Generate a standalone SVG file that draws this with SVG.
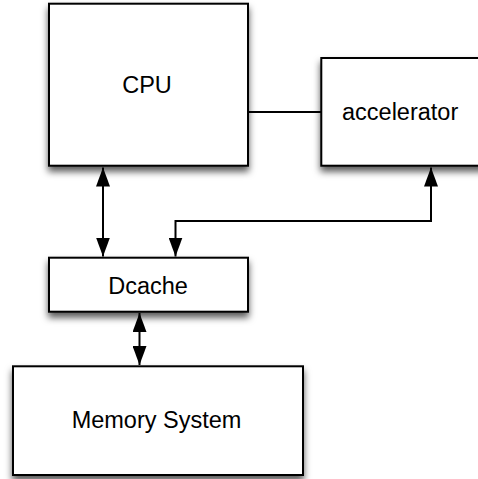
<svg xmlns="http://www.w3.org/2000/svg" width="478" height="479" viewBox="0 0 478 479">
  <defs>
    <filter id="shadow" x="-20%" y="-20%" width="140%" height="150%">
      <feDropShadow dx="0" dy="5" stdDeviation="3.5" flood-color="#000" flood-opacity="0.65"/>
    </filter>
    <marker id="arrow" viewBox="0 0 19 14" refX="19" refY="7" markerWidth="19" markerHeight="14" markerUnits="userSpaceOnUse" orient="auto-start-reverse">
      <path d="M0,0 L19,7 L0,14 Z" fill="#000"/>
    </marker>
  </defs>
  <style>
    .box { fill: #fff; stroke: #000; stroke-width: 2; filter: url(#shadow); }
    .label { font-family: "Liberation Sans", Arial, Helvetica, sans-serif; font-size: 23.5px; fill: #000; }
    .wire { fill: none; stroke: #000; stroke-width: 2; }
  </style>
  <rect width="478" height="479" fill="#fff"/>

  <g id="connectors">
    <!-- CPU to accelerator -->
    <line class="wire" x1="248" y1="112" x2="321" y2="112"/>
    <!-- CPU <-> Dcache -->
    <line class="wire" x1="103" y1="167.5" x2="103" y2="256.5" marker-start="url(#arrow)" marker-end="url(#arrow)"/>
    <!-- accelerator <-> Dcache -->
    <polyline class="wire" points="431,167.5 431,221 175.5,221 175.5,256.5" marker-start="url(#arrow)" marker-end="url(#arrow)"/>
    <!-- Dcache <-> Memory System -->
    <line class="wire" x1="139.5" y1="313" x2="139.5" y2="365" marker-start="url(#arrow)" marker-end="url(#arrow)"/>
  </g>

  <g id="cpu">
    <rect class="box" x="49" y="3.7" width="199" height="162"/>
    <text class="label" x="147" y="92.5" text-anchor="middle">CPU</text>
  </g>

  <g id="accelerator">
    <rect class="box" x="321.3" y="58" width="170" height="107.7"/>
    <text class="label" x="342" y="119.5">accelerator</text>
  </g>

  <g id="dcache">
    <rect class="box" x="49" y="257.7" width="199" height="54"/>
    <text class="label" x="148" y="293.5" text-anchor="middle">Dcache</text>
  </g>

  <g id="memory">
    <rect class="box" x="13" y="366.3" width="290" height="108.7"/>
    <text class="label" x="156.5" y="428" text-anchor="middle">Memory System</text>
  </g>
</svg>
